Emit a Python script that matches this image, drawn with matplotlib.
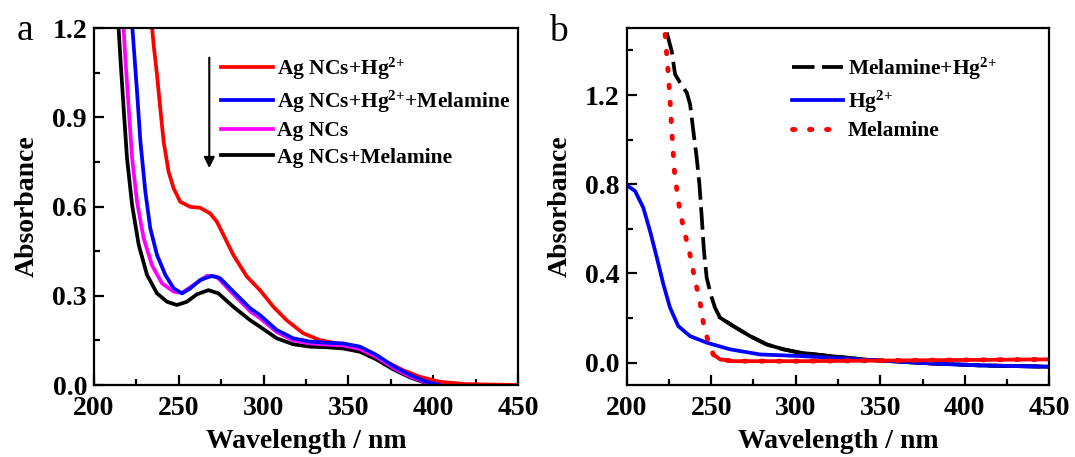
import matplotlib
matplotlib.use("Agg")
import matplotlib.pyplot as plt
from matplotlib.ticker import MultipleLocator

plt.rcParams['font.family'] = ['Liberation Serif', 'DejaVu Serif']
plt.rcParams['font.weight'] = 'bold'
plt.rcParams['mathtext.fontset'] = 'custom'
plt.rcParams['mathtext.rm'] = 'Liberation Serif:bold'
plt.rcParams['mathtext.bf'] = 'Liberation Serif:bold'
plt.rcParams['mathtext.it'] = 'Liberation Serif:bold'
plt.rcParams['mathtext.default'] = 'bf'

# ---- panel a: Ag NCs spectra ----
wl_red = [233.5, 235.2, 237.2, 239.1, 241.1, 244.0, 247.0, 250.9, 256.8, 262.6, 268.5,
          272.5, 276.4, 282.2, 290.1, 297.9, 305.8, 313.6, 323.4, 333.2, 343.1, 352.8,
          362.6, 372.5, 382.2, 392.0, 403.8, 419.5, 450.0]
abs_red = [1.25, 1.143, 1.042, 0.930, 0.818, 0.717, 0.661, 0.616, 0.599, 0.596, 0.577,
           0.549, 0.504, 0.437, 0.365, 0.319, 0.263, 0.218, 0.174, 0.151, 0.140, 0.129,
           0.106, 0.078, 0.050, 0.028, 0.011, 0.003, 0.0]

wl_blue = [222.0, 223.4, 225.4, 227.4, 230.3, 233.2, 237.2, 242.1, 247.0, 251.9, 256.8,
           262.6, 269.5, 274.4, 282.2, 292.1, 297.9, 307.8, 317.5, 327.4, 337.2, 346.9,
           356.8, 366.6, 376.4, 386.2, 396.0, 403.8]
abs_blue = [1.25, 1.143, 0.986, 0.818, 0.650, 0.527, 0.437, 0.370, 0.325, 0.308, 0.325,
            0.353, 0.367, 0.359, 0.314, 0.258, 0.235, 0.185, 0.157, 0.146, 0.142, 0.140,
            0.129, 0.101, 0.064, 0.034, 0.011, 0.0]

wl_mag = [217.0, 218.5, 220.5, 222.5, 225.4, 229.3, 234.2, 240.1, 247.0, 251.9, 258.7,
          266.6, 272.5, 282.2, 292.1, 297.9, 307.8, 317.5, 327.4, 337.2, 346.9, 356.8,
          366.6, 376.4, 386.2, 396.0, 402.0]
abs_mag = [1.25, 1.098, 0.930, 0.762, 0.616, 0.493, 0.403, 0.342, 0.314, 0.310, 0.336,
           0.367, 0.364, 0.305, 0.248, 0.225, 0.178, 0.150, 0.140, 0.136, 0.133, 0.121,
           0.094, 0.058, 0.029, 0.008, 0.0]

wl_blk = [214.0, 215.6, 217.5, 219.5, 222.5, 226.4, 231.3, 237.2, 243.1, 248.9, 254.8,
          260.7, 267.5, 273.4, 282.2, 292.1, 297.9, 307.8, 317.5, 327.4, 337.2, 346.9,
          356.8, 366.6, 376.4, 386.2, 396.0, 401.9]
abs_blk = [1.25, 1.098, 0.930, 0.762, 0.605, 0.471, 0.370, 0.308, 0.280, 0.269, 0.280,
           0.305, 0.319, 0.308, 0.263, 0.218, 0.196, 0.157, 0.137, 0.129, 0.127, 0.123,
           0.112, 0.086, 0.053, 0.026, 0.006, 0.0]

labels_a = ['Ag NCs+Hg$^{2{+}}$', 'Ag NCs+Hg$^{2{+}}$+Melamine', 'Ag NCs', 'Ag NCs+Melamine']

# ---- panel b: references ----
wl_mh = [223.7, 226.6, 228.6, 231.5, 235.5, 237.5, 239.4, 241.4, 243.0, 244.4, 245.7,
         247.3, 249.7, 252.2, 255.2, 263.1, 273.0, 282.8, 292.7, 302.5, 320.0, 344.0,
         379.5, 409.0, 450.0]
abs_mh = [1.480, 1.397, 1.293, 1.256, 1.211, 1.158, 1.039, 0.919, 0.800, 0.650, 0.500,
          0.381, 0.306, 0.247, 0.202, 0.164, 0.119, 0.082, 0.060, 0.045, 0.030, 0.012,
          -0.003, -0.012, -0.018]

wl_hg = [200.0, 204.9, 209.8, 213.8, 217.8, 221.7, 225.6, 230.5, 237.5, 247.3, 261.1,
         278.9, 302.5, 344.0, 379.5, 409.0, 450.0]
abs_hg = [0.796, 0.770, 0.695, 0.590, 0.471, 0.351, 0.247, 0.164, 0.119, 0.090, 0.060,
          0.037, 0.030, 0.012, -0.003, -0.012, -0.018]

wl_mel = [222.7, 224.6, 225.6, 226.6, 228.2, 230.5, 232.5, 234.5, 236.5, 238.5, 240.4,
          243.0, 244.4, 246.3, 248.9, 251.2, 255.2, 263.1, 302.5, 450.0]
abs_mel = [1.472, 1.293, 1.181, 1.046, 0.859, 0.725, 0.643, 0.575, 0.516, 0.448, 0.366,
           0.291, 0.217, 0.142, 0.082, 0.037, 0.015, 0.007, 0.007, 0.015]

labels_b = ['Melamine+Hg$^{2{+}}$', 'Hg$^{2{+}}$', 'Melamine']

fig = plt.figure(figsize=(10.75, 4.57), dpi=100)
axa = fig.add_axes([0.0874, 0.1575, 0.3944, 0.781])
axb = fig.add_axes([0.583, 0.1575, 0.3931, 0.781])

lw = 2.7
r, = axa.plot(wl_red, abs_red, color='#ff0000', lw=lw)
k, = axa.plot(wl_blk, abs_blk, color='black', lw=lw)
m, = axa.plot(wl_mag, abs_mag, color='#ff00ff', lw=lw)
b, = axa.plot(wl_blue, abs_blue, color='#0000ff', lw=lw)

axa.legend([r, b, m, k], labels_a, loc='upper left', bbox_to_anchor=(0.30, 0.922),
           frameon=False, fontsize=15.5, handlelength=2.4, handletextpad=0.2,
           labelspacing=0.3, borderpad=0, borderaxespad=0)
axa.annotate('', xy=(268, 0.72), xytext=(268, 1.11),
             arrowprops=dict(arrowstyle='-|>', color='black', lw=1.5, mutation_scale=16))

axa.set_xlim(200, 450)
axa.set_ylim(0, 1.2)
axa.xaxis.set_major_locator(MultipleLocator(50))
axa.xaxis.set_minor_locator(MultipleLocator(25))
axa.yaxis.set_major_locator(MultipleLocator(0.3))
axa.yaxis.set_minor_locator(MultipleLocator(0.15))
axa.yaxis.set_major_formatter(plt.FormatStrFormatter('%.1f'))

# the dashed / dotted patterns only show on the steep part, the tails look solid
n_mh = 14
n_mel = 15
bl, = axb.plot(wl_mh, abs_mh, color='black', lw=lw, linestyle=(0, (6, 2)))
axb.plot(wl_mh[n_mh:], abs_mh[n_mh:], color='black', lw=lw)
hg, = axb.plot(wl_hg, abs_hg, color='#0000ff', lw=lw)
me, = axb.plot(wl_mel, abs_mel, color='#ff0000', lw=3.5, linestyle=(0, (0.5, 3)),
               dash_capstyle='round')
axb.plot(wl_mel[n_mel:], abs_mel[n_mel:], color='#ff0000', lw=lw)

axb.legend([bl, hg, me], labels_b, loc='upper left', bbox_to_anchor=(0.39, 0.922),
           frameon=False, fontsize=15.5, handlelength=2.4, handletextpad=0.2,
           labelspacing=0.3, borderpad=0, borderaxespad=0)

axb.set_xlim(200, 450)
axb.set_ylim(-0.1, 1.5)
axb.xaxis.set_major_locator(MultipleLocator(50))
axb.xaxis.set_minor_locator(MultipleLocator(25))
axb.yaxis.set_major_locator(MultipleLocator(0.4))
axb.yaxis.set_minor_locator(MultipleLocator(0.2))
axb.yaxis.set_major_formatter(plt.FormatStrFormatter('%.1f'))

for ax in (axa, axb):
    for s in ax.spines.values():
        s.set_linewidth(1.6)
    ax.tick_params(which='both', direction='in', top=False, right=False, width=1.6,
                   labelsize=20)
    ax.tick_params(axis='x', pad=8)
    ax.tick_params(axis='y', pad=5)
    ax.tick_params(which='major', length=7)
    ax.tick_params(which='minor', length=4)
    ax.set_xlabel('Wavelength / nm', fontsize=20, fontweight='bold', labelpad=6)
    ax.set_ylabel('Absorbance', fontsize=20, fontweight='bold', labelpad=9)

fig.text(0.015, 0.912, 'a', fontsize=27, fontweight='normal')
fig.text(0.511, 0.91, 'b', fontsize=27, fontweight='normal')

fig.savefig('out.png', dpi=100)
